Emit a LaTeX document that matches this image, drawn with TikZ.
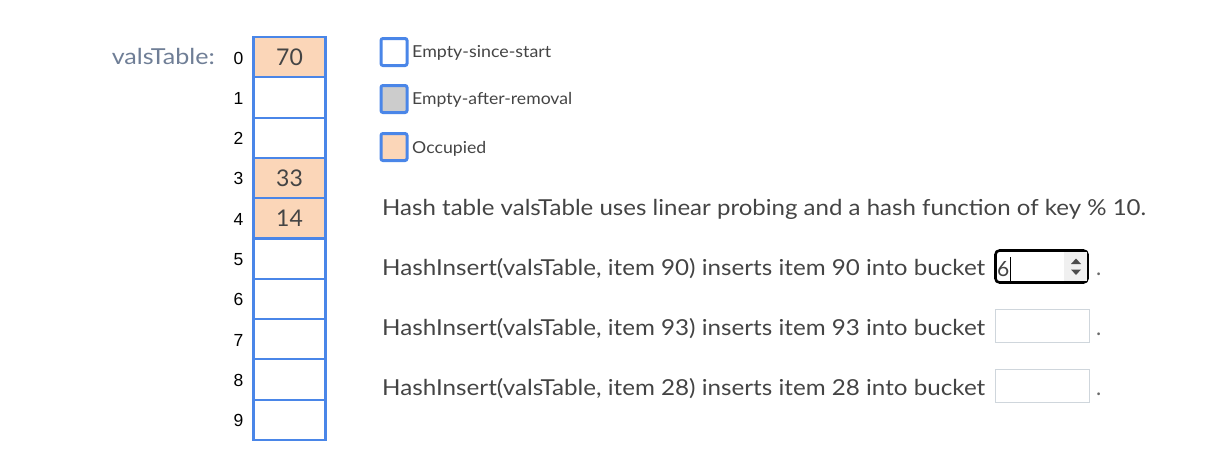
\documentclass[tikz,border=0pt]{standalone}
\usepackage{fontspec}
\setmainfont{Lato}
\newfontfamily\arialf{Liberation Sans}
\definecolor{cellblue}{HTML}{4A86E8}
\definecolor{peach}{HTML}{FBD6B8}
\definecolor{txt}{HTML}{444444}
\definecolor{lbl}{HTML}{6F7E96}
\definecolor{inbord}{HTML}{CFD6DC}
\definecolor{spin}{HTML}{F0F0F0}
\tikzset{
  cell/.style={draw=cellblue, line width=2.1pt, minimum width=72pt, minimum height=40.3pt, inner sep=0pt,
    font=\fontsize{23}{23}\selectfont, text=txt},
  idx/.style={font=\arialf\fontsize{17.5}{17.5}\selectfont, text=black, anchor=base, inner sep=0pt},
  legbox/.style={draw=cellblue, line width=3pt, rounded corners=2pt, minimum width=26pt, minimum height=27pt, inner sep=0pt},
  legtxt/.style={anchor=base west, inner sep=0pt, font=\fontsize{16.5}{16.5}\selectfont, text=txt},
  qtxt/.style={anchor=base west, inner sep=0pt, font=\fontsize{22}{22}\selectfont, text=txt},
  inbox/.style={draw=inbord, line width=0.9pt, minimum width=94pt, minimum height=33pt, inner sep=0pt},
  dot/.style={anchor=base west, inner sep=0pt, font=\fontsize{22}{22}\selectfont, text=txt!80}
}
\newcommand{\fitw}[2]{\resizebox{#1}{\height}{#2}}
\begin{document}
\begin{tikzpicture}[x=1pt,y=-1pt]
\useasboundingbox (0,0) rectangle (1208,464);
% label
\node[anchor=base east, inner sep=0pt, font=\fontsize{22}{22}\selectfont, text=lbl] (lab) at (215,64) {\fitw{103pt}{valsTable:}};
% cells
\foreach \i/\v/\f in {0/70/peach,1//white,2//white,3/33/peach,4/14/peach,5//white,6//white,7//white,8//white,9//white}{
  \node[cell, fill=\f] (c\i) at (289.5,{37+40.3*\i+20.15}) {\v};
  \node[idx] (n\i) at (238.5,{37+40.3*\i+27}) {\i};
}
% legend
\node[legbox, fill=white] (l1) at (394,52) {};
\node[legtxt] (t1) at (412,57) {\fitw{139pt}{Empty-since-start}};
\node[legbox, fill=black!20] (l2) at (394,99) {};
\node[legtxt] (t2) at (412,104) {\fitw{160pt}{Empty-after-removal}};
\node[legbox, fill=peach] (l3) at (394,147) {};
\node[legtxt] (t3) at (412,153) {\fitw{74pt}{Occupied}};
% question text
\node[qtxt] (q0) at (382,215) {\fitw{764pt}{Hash table valsTable uses linear probing and a hash function of key \% 10.}};
\node[qtxt] (q1) at (382,275) {\fitw{603pt}{HashInsert(valsTable, item 90) inserts item 90 into bucket}};
\node[qtxt] (q2) at (382,335) {\fitw{603pt}{HashInsert(valsTable, item 93) inserts item 93 into bucket}};
\node[qtxt] (q3) at (382,395) {\fitw{603pt}{HashInsert(valsTable, item 28) inserts item 28 into bucket}};
% input boxes
\node[draw=black, line width=2.6pt, rounded corners=4pt, minimum width=92pt, minimum height=32pt, inner sep=0pt, fill=white] (b1) at (1041.5,266.5) {};
\fill[spin] (1064,252) rectangle (1087,281);
\fill[black!70] (1071,264) -- (1081,264) -- (1076,258.5) -- cycle;
\fill[black!70] (1071,269.5) -- (1081,269.5) -- (1076,275) -- cycle;
\node[anchor=base west, inner sep=0pt, font=\fontsize{21}{21}\selectfont, text=txt] (v1) at (997,276) {6};
\draw[black, line width=0.8pt] (1010.5,257) -- (1010.5,281);
\node[inbox] (b2) at (1042,326) {};
\node[inbox] (b3) at (1042,386) {};
\node[dot] (d1) at (1096,275) {.};
\node[dot] (d2) at (1096,335) {.};
\node[dot] (d3) at (1096,395) {.};
\end{tikzpicture}
\end{document}
